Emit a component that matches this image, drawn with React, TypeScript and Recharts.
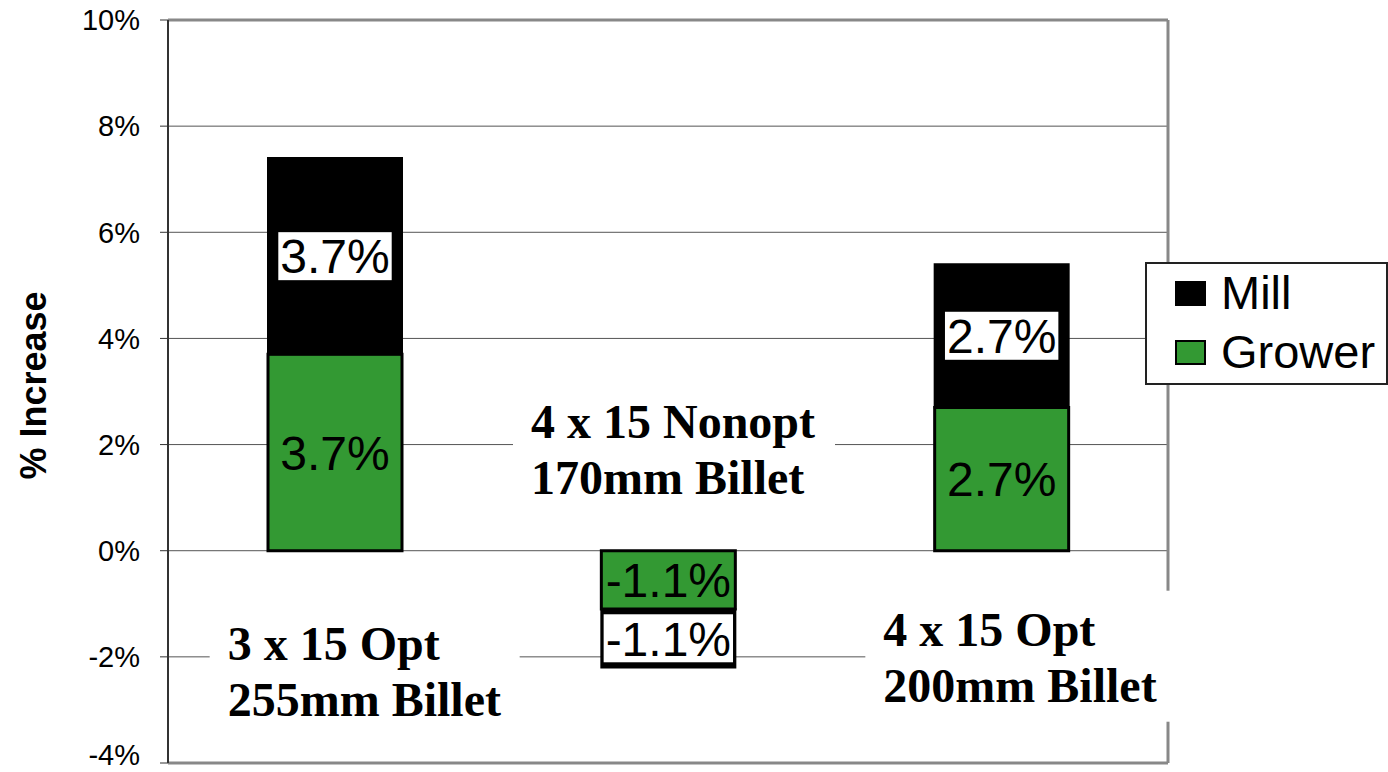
import React from 'react';
import {
  BarChart,
  Bar,
  XAxis,
  YAxis,
  CartesianGrid,
  ReferenceLine,
  ReferenceDot,
  LabelList,
  Legend,
} from 'recharts';

// Categories (harvester configuration) and the two stacked shares
const categories = ['3 x 15 Opt 255mm Billet', '4 x 15 Nonopt 170mm Billet', '4 x 15 Opt 200mm Billet'];
const nameLine1 = ['3 x 15 Opt', '4 x 15 Nonopt', '4 x 15 Opt'];
const nameLine2 = ['255mm Billet', '170mm Billet', '200mm Billet'];
const growerValues = [3.7, -1.1, 2.7];
const millValues = [3.7, -1.1, 2.7];
const yTicks = [-4, -2, 0, 2, 4, 6, 8, 10];

// Where each two-line category tag sits on the value scale, plus its layout
const tagAnchorY = [-2.05, 2.13, -1.79];
const tagDx = [-107, -137, -118];
const tagBoxW = [310, 322, 312];

const data = categories.map((name, i) => ({
  name,
  grower: growerValues[i],
  mill: millValues[i],
}));

const SANS = '"Liberation Sans", Arial, Helvetica, sans-serif';
const SERIF = '"Liberation Serif", "Times New Roman", Times, serif';
const GREEN = '#339933';
const VALUE_FONT = 48;
const CHART_H = 772;

const CHAR_EM: Record<string, number> = { '.': 0.278, '%': 0.889, '-': 0.333 };
const textWidth = (s: string, size: number) =>
  s.split('').reduce((w, c) => w + (CHAR_EM[c] ?? 0.556) * size, 0);

const pct = (v: number) => `${Number(v).toFixed(1)}%`;

// Value label; the mill labels sit on a white plate
const makeValueLabel = (boxed: boolean) => (props: any) => {
  const { x, y, width, height, value } = props;
  const cx = Number(x) + Number(width) / 2;
  const cy = Number(y) + Number(height) / 2;
  const text = pct(value);
  const w = textWidth(text, VALUE_FONT) + 4;
  return (
    <g>
      {boxed && <rect x={cx - w / 2} y={cy - 24} width={w} height={48} fill="#fff" />}
      <text
        x={cx}
        y={cy}
        dy="0.36em"
        textAnchor="middle"
        fontSize={VALUE_FONT}
        fontFamily={SANS}
        fill="#000"
      >
        {text}
      </text>
    </g>
  );
};

// Y tick label, kept inside the bottom edge of the drawing
const YTick = (props: any) => {
  const { x, y, payload } = props;
  const ty = Math.min(Number(y), CHART_H - 17);
  return (
    <text
      x={x}
      y={ty}
      dy="0.355em"
      textAnchor="end"
      fontSize={29}
      fontFamily={SANS}
      fill="#000"
    >
      {`${payload.value}%`}
    </text>
  );
};

const CategoryTag = ({ cx, cy, i }: { cx: number; cy: number; i: number }) => {
  const left = cx + tagDx[i];
  return (
    <g>
      <rect x={left - 18} y={cy - 55} width={tagBoxW[i]} height={131} fill="#fff" />
      <text x={left} y={cy} fontFamily={SERIF} fontWeight="bold" fontSize={48} fill="#000">
        {nameLine1[i]}
      </text>
      <text x={left} y={cy + 56} fontFamily={SERIF} fontWeight="bold" fontSize={48} fill="#000">
        {nameLine2[i]}
      </text>
    </g>
  );
};

const LegendBox = (props: any) => {
  const items = [...(props.payload || [])].reverse();
  return (
    <div
      style={{
        position: 'relative',
        boxSizing: 'border-box',
        width: 243,
        height: 123,
        border: '2px solid #222',
        background: '#fff',
      }}
    >
      {items.map((item: any, k: number) => (
        <div
          key={item.value}
          style={{
            position: 'absolute',
            left: 28,
            top: 29 + k * 59 - 20,
            height: 40,
            display: 'flex',
            alignItems: 'center',
          }}
        >
          <span
            style={{
              display: 'inline-block',
              boxSizing: 'border-box',
              width: 31,
              height: 25,
              background: item.color,
              border: '2px solid #000',
            }}
          />
          <span
            style={{
              marginLeft: 15,
              fontSize: 47,
              lineHeight: '40px',
              fontFamily: SANS,
              color: '#000',
            }}
          >
            {item.value}
          </span>
        </div>
      ))}
    </div>
  );
};

const YLabel = (props: any) => {
  const vb = props.viewBox || { y: 20, height: 743 };
  const yc = vb.y + vb.height / 2 - 6;
  return (
    <text
      x={33}
      y={yc}
      transform={`rotate(-90, 33, ${yc})`}
      textAnchor="middle"
      dominantBaseline="central"
      fontFamily={SANS}
      fontWeight="bold"
      fontSize={36}
      fill="#000"
    >
      % Increase
    </text>
  );
};

// Right edge of the plot frame, taken from the chart's own offset
const rightEdge = ({ offset }: any) => [offset.left + offset.width];

export default function App() {
  return (
    <div style={{ position: 'absolute', left: 0, top: 0, width: 1388, height: CHART_H, background: '#fff' }}>
      <BarChart
        width={1388}
        height={CHART_H}
        data={data}
        stackOffset="sign"
        margin={{ top: 20, right: 220, bottom: 8, left: 0 }}
      >
        <CartesianGrid vertical={false} stroke="#555" />
        <CartesianGrid
          horizontal={false}
          verticalCoordinatesGenerator={rightEdge}
          stroke="#888"
          strokeWidth={3}
        />
        <XAxis
          dataKey="name"
          height={1}
          tick={false}
          tickLine={false}
          axisLine={{ stroke: '#888', strokeWidth: 3 }}
        />
        <YAxis
          width={168}
          domain={[-4, 10]}
          ticks={yTicks}
          interval={0}
          tick={<YTick />}
          tickSize={8}
          tickMargin={20}
          tickLine={{ stroke: '#333' }}
          axisLine={{ stroke: '#333', strokeWidth: 2 }}
          label={{ content: YLabel }}
        />
        <ReferenceLine y={10} stroke="#888" strokeWidth={3} />
        <Bar
          dataKey="grower"
          name="Grower"
          stackId="s"
          fill={GREEN}
          stroke="#000"
          strokeWidth={3}
          barSize={134}
          isAnimationActive={false}
        >
          <LabelList dataKey="grower" content={makeValueLabel(false)} />
        </Bar>
        <Bar
          dataKey="mill"
          name="Mill"
          stackId="s"
          fill="#000"
          stroke="#000"
          strokeWidth={2}
          barSize={134}
          isAnimationActive={false}
        >
          <LabelList dataKey="mill" content={makeValueLabel(true)} />
        </Bar>
        {categories.map((c, i) => (
          <ReferenceDot
            key={c}
            x={c}
            y={tagAnchorY[i]}
            r={0}
            shape={(p: any) => <CategoryTag cx={p.cx} cy={p.cy} i={i} />}
          />
        ))}
        <Legend
          layout="vertical"
          align="center"
          verticalAlign="middle"
          wrapperStyle={{ left: 1145, top: 262, width: 243, height: 123 }}
          content={LegendBox}
        />
      </BarChart>
    </div>
  );
}
